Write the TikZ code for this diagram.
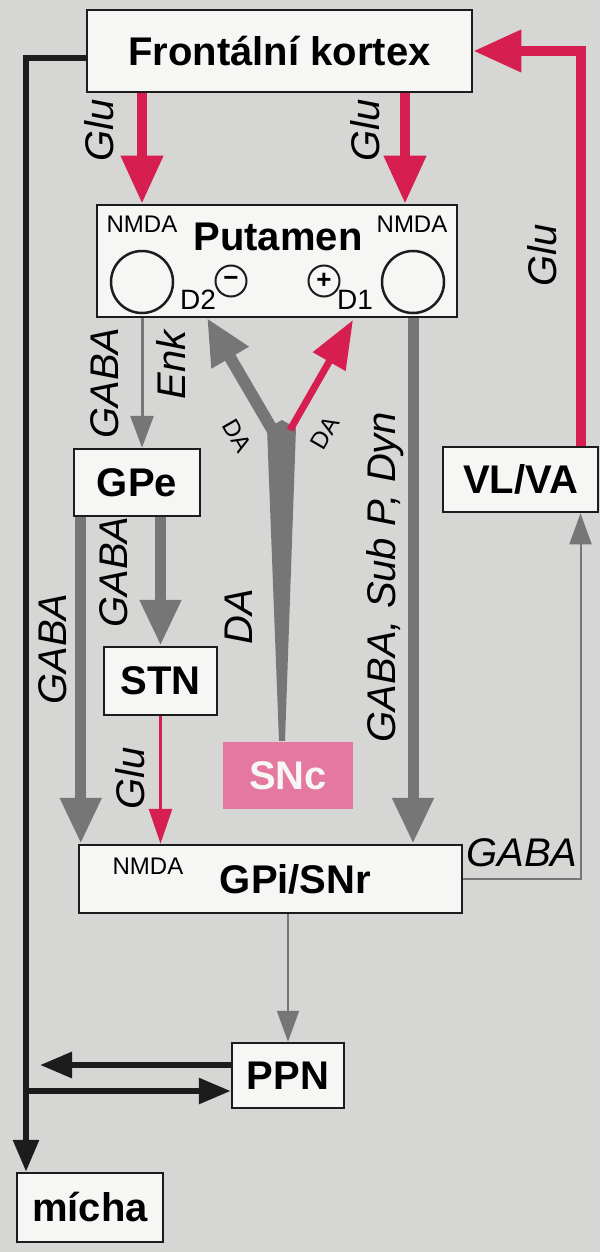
\documentclass[tikz,border=0pt]{standalone}
\usepackage{fontspec}
\setmainfont{Liberation Sans}
\usepackage{tikz}
\usetikzlibrary{arrows.meta,positioning}

\definecolor{bgc}{RGB}{214,214,212}
\definecolor{boxc}{RGB}{246,246,244}
\definecolor{inkc}{RGB}{28,28,28}
\definecolor{gluc}{RGB}{214,30,80}
\definecolor{gabac}{RGB}{118,118,118}
\definecolor{sncc}{RGB}{229,120,160}

\begin{document}
\begin{tikzpicture}[x=1pt, y=-1pt,
    box/.style={draw=inkc, fill=boxc, line width=2.5pt, inner sep=0pt, font=\fontsize{40}{44}\selectfont\bfseries},
    lab/.style={inner sep=0pt, font=\fontsize{40}{44}\selectfont\itshape},
    nmda/.style={inner sep=0pt, font=\fontsize{24}{26}\selectfont},
    rec/.style={draw=inkc, line width=2.5pt, circle, minimum size=62pt, inner sep=0pt},
    sgn/.style={draw=inkc, line width=2pt, circle, minimum size=31pt, inner sep=0pt, font=\fontsize{26}{28}\selectfont\bfseries},
    glu/.style={draw=gluc, line width=10pt, -{Triangle[length=48pt,width=40pt]}},
    gluthin/.style={draw=gluc, line width=3pt, -{Triangle[length=35pt,width=23pt]}},
    gaba/.style={draw=gabac, line width=11pt, -{Triangle[length=46pt,width=39pt]}},
    gabathin/.style={draw=gabac, line width=3pt, -{Triangle[length=32pt,width=23pt]}},
    hair/.style={draw=gabac, line width=2pt, -{Triangle[length=31pt,width=22pt]}},
    motor/.style={draw=inkc, line width=6pt, -{Triangle[length=32pt,width=25pt]}},
  ]
  \path[use as bounding box, fill=bgc] (0,0) rectangle (600,1252);

  % boxes
  \node[box, minimum width=385pt, minimum height=82pt] (front) at (279.5,51) {Frontální kortex};
  \node[box, minimum width=360pt, minimum height=112pt] (put) at (277,261) {};
  \node[box, minimum width=126pt, minimum height=67pt] (gpe) at (137,482.5) {GPe};
  \node[box, minimum width=113pt, minimum height=68pt] (stn) at (160.5,681) {STN};
  \node[box, draw=none, fill=sncc, text=boxc, minimum width=130pt, minimum height=67pt] (snc) at (288,775.5) {SNc};
  \node[box, minimum width=383pt, minimum height=68pt] (gpi) at (270.5,879) {\hspace*{50pt}GPi/SNr};
  \node[box, minimum width=155pt, minimum height=65pt] (vlva) at (520.5,479.5) {VL/VA};
  \node[box, minimum width=112pt, minimum height=65pt] (ppn) at (288,1075.5) {PPN};
  \node[box, minimum width=146pt, minimum height=69pt] (micha) at (90,1207.5) {mícha};

  % putamen inside
  \node[inner sep=0pt, font=\fontsize{40}{44}\selectfont\bfseries] (putt) at (278,237) {Putamen};
  \node[rec] (nl) at (142,282) {};
  \node[rec] (nr) at (413,282) {};
  \node[nmda] (nm1) at (142,224) {NMDA};
  \node[nmda] (nm2) at (412,224) {NMDA};
  \node[sgn] (minus) at (231,281) {−};
  \node[sgn] (plus) at (324,281) {+};
  \node[nmda, font=\fontsize{28}{30}\selectfont] (d2) at (198,300) {D2};
  \node[nmda, font=\fontsize{28}{30}\selectfont] (d1) at (355,300) {D1};
  \node[nmda] (nm3) at (148,866) {NMDA};

  % cortex loops
  \coordinate (gr) at ([xshift=-8pt]nr.center);
  \draw[glu] (nl |- front.south) -- (nl |- put.north);
  \draw[glu] (gr |- front.south) -- (gr |- put.north);
  \draw[glu] ([xshift=60pt]vlva.north) |- (front.east);

  % basal ganglia
  \draw[gabathin] (nl |- put.south) -- (nl |- gpe.north);
  \draw[gaba] (stn.north |- gpe.south) -- (stn.north);
  \coordinate (ge) at ([xshift=8pt]gpe.south west);
  \draw[gaba] (ge) -- (ge |- gpi.north);
  \draw[gluthin] (stn.south) -- (stn.south |- gpi.north);
  \draw[gaba] (nr |- put.south) -- (nr |- gpi.north);

  % dopamine
  \coordinate (jn) at (282,428);
  \coordinate (t2) at (207,318);
  \coordinate (t1) at (353,320);
  \fill[gabac] ([xshift=-9pt]snc.north) -- ([xshift=-3pt]snc.north) -- ([xshift=14pt]jn)
    -- ([yshift=8pt]jn) -- ([xshift=-15pt]jn) -- cycle;
  \draw[gaba, line width=12pt, -{Triangle[length=46pt,width=40pt]}] ([xshift=-6pt,yshift=-8pt]jn) -- (t2);
  \draw[glu, line width=7pt, -{Triangle[length=48pt,width=36pt]}] ([xshift=8pt,yshift=-2pt]jn) -- (t1);

  % output
  \coordinate (vc) at ([xshift=60pt]vlva.south);
  \draw[hair] (gpi.east) -- node[lab, above=11pt] (lgaba4) {GABA} (gpi.east -| vc) -- (vc);
  \draw[hair] (ppn.north |- gpi.south) -- (ppn.north);
  \coordinate (sp) at (26,1091);
  \coordinate (lt) at (40,1065);
  \draw[motor] ([yshift=-7pt]front.west) -| (micha.north -| sp);
  \draw[motor] (sp) -- (ppn.west |- sp);
  \draw[motor] (ppn.west |- lt) -- (lt);

  % transmitter labels
  \node[lab, rotate=90] (lglu1) at (99,130) {Glu};
  \node[lab, rotate=90] (lglu2) at (365,130) {Glu};
  \node[lab, rotate=90] (lglu3) at (542,255) {Glu};
  \node[lab, rotate=90] (lgaba1) at (105,383) {GABA};
  \node[lab, rotate=90] (lenk) at (171,365) {Enk};
  \node[lab, rotate=90] (lgaba2) at (114,572) {GABA};
  \node[lab, rotate=90] (lgaba3) at (53,649) {GABA};
  \node[lab, rotate=90] (lglu4) at (130,778) {Glu};
  \node[lab, rotate=90] (lda) at (239,617) {DA};
  \node[lab, rotate=90] (lgsd) at (385,577) {GABA, Sub P, Dyn};
  \node[nmda, rotate=-60] (lda1) at (237,436) {DA};
  \node[nmda, rotate=60] (lda2) at (325,433) {DA};
\end{tikzpicture}
\end{document}
